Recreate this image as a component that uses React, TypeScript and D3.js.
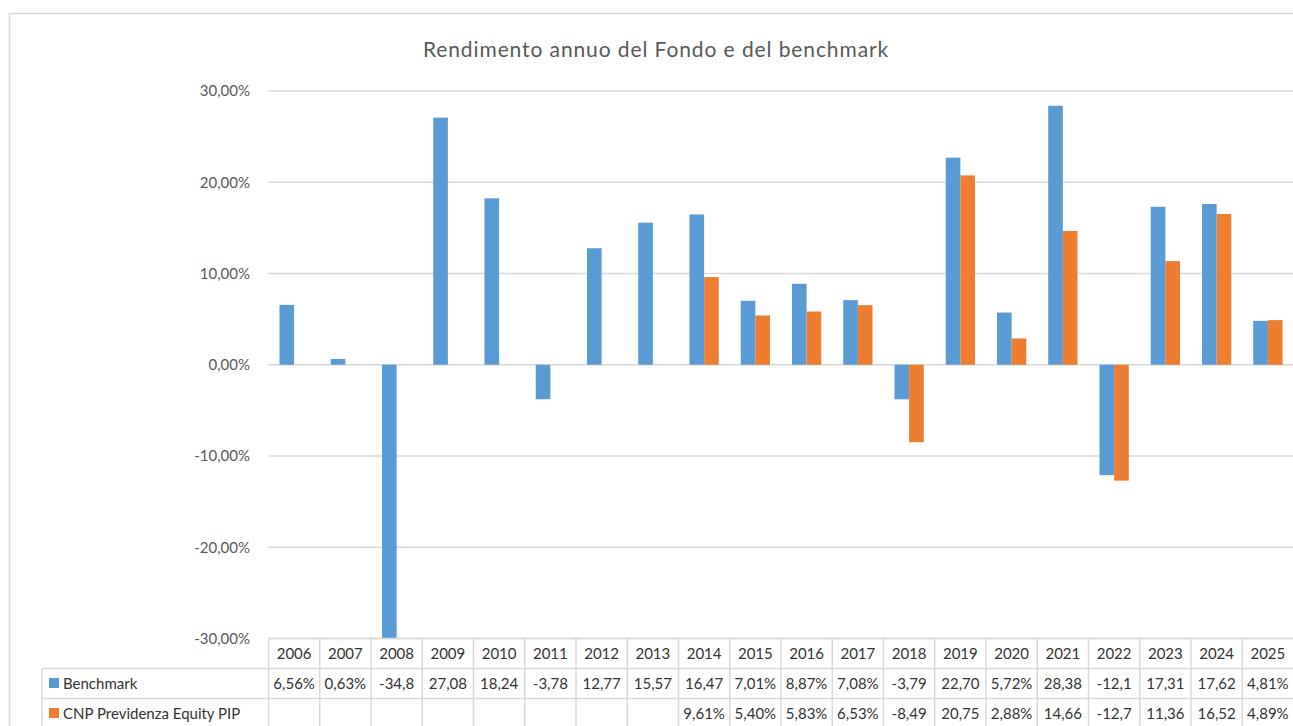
import React, { useRef, useEffect } from 'react';
import * as d3 from 'd3';

const years = ['2006', '2007', '2008', '2009', '2010', '2011', '2012', '2013', '2014', '2015',
  '2016', '2017', '2018', '2019', '2020', '2021', '2022', '2023', '2024', '2025'];

const benchmark = [6.56, 0.63, -34.8, 27.08, 18.24, -3.78, 12.77, 15.57, 16.47, 7.01,
  8.87, 7.08, -3.79, 22.70, 5.72, 28.38, -12.1, 17.31, 17.62, 4.81];

const fund = [null, null, null, null, null, null, null, null, 9.61, 5.40,
  5.83, 6.53, -8.49, 20.75, 2.88, 14.66, -12.7, 11.36, 16.52, 4.89];

const seriesNames = ['Benchmark', 'CNP Previdenza Equity PIP'];
const seriesColors = ['#5B9BD5', '#ED7D31'];
const yTicks = [30, 20, 10, 0, -10, -20, -30];

const title = 'Rendimento annuo del Fondo e del benchmark';

const W = 1293;
const H = 726;
const FONT = 'Lato, "Open Sans", sans-serif';
const GRID = '#d9d9d9';

// italian style percent, plain hyphen for negatives
const pct = (v) => d3.format('.2f')(v).replace('.', ',').replace('−', '-') + '%';
// Excel cuts the value off to the cell width
const cellText = (v) => (v == null ? '' : pct(v).slice(0, 5));

export default function App() {
  const svgRef = useRef(null);

  useEffect(() => {
    const svg = d3.select(svgRef.current);
    svg.selectAll('*').remove();

    const left = 268.5;
    const tableTop = 638.5;
    const rowH = 30;
    const labelLeft = 42;

    const x = d3.scaleBand().domain(years).range([left, W + 0.5]).padding(0);
    const xs = d3.scaleBand().domain(seriesNames).range([0, x.bandwidth()])
      .paddingInner(0).paddingOuter(0.75);
    const y = d3.scaleLinear().domain([-30, 30]).range([tableTop, 91]);

    // chart border
    svg.append('path')
      .attr('d', `M9.5,${H} V13.5 H${W}`)
      .attr('fill', 'none')
      .attr('stroke', GRID)
      .attr('stroke-width', 1.5);

    // title
    svg.append('text')
      .attr('x', 656)
      .attr('y', 57)
      .attr('text-anchor', 'middle')
      .attr('font-family', FONT)
      .attr('font-size', 21)
      .attr('letter-spacing', 0.9)
      .attr('fill', '#595959')
      .text(title);

    // gridlines + y labels
    svg.append('g').selectAll('line')
      .data(yTicks)
      .enter().append('line')
      .attr('x1', left)
      .attr('x2', W)
      .attr('y1', d => y(d))
      .attr('y2', d => y(d))
      .attr('stroke', GRID)
      .attr('stroke-width', 1.5);

    svg.append('g').selectAll('text')
      .data(yTicks)
      .enter().append('text')
      .attr('x', 250)
      .attr('y', d => y(d))
      .attr('dy', '0.35em')
      .attr('text-anchor', 'end')
      .attr('font-family', FONT)
      .attr('font-size', 15)
      .attr('fill', '#595959')
      .text(d => pct(d));

    // bars
    const allSeries = [benchmark, fund];
    allSeries.forEach((vals, si) => {
      svg.append('g').selectAll('rect')
        .data(vals.map((v, i) => ({ v, year: years[i] })).filter(d => d.v != null))
        .enter().append('rect')
        .attr('x', d => x(d.year) + xs(seriesNames[si]))
        .attr('width', xs.bandwidth())
        .attr('y', d => y(Math.min(30, Math.max(0, d.v))))
        .attr('height', d => Math.abs(y(Math.max(-30, Math.min(30, d.v))) - y(0)))
        .attr('fill', seriesColors[si]);
    });

    // data table
    const tbl = svg.append('g')
      .attr('stroke', GRID)
      .attr('stroke-width', 1.5)
      .attr('fill', 'none');

    // horizontal lines
    tbl.append('line').attr('x1', left).attr('x2', W).attr('y1', tableTop).attr('y2', tableTop);
    [1, 2].forEach(r => {
      tbl.append('line')
        .attr('x1', labelLeft)
        .attr('x2', W)
        .attr('y1', tableTop + r * rowH)
        .attr('y2', tableTop + r * rowH);
    });
    // vertical lines
    tbl.append('line').attr('x1', labelLeft).attr('x2', labelLeft)
      .attr('y1', tableTop + rowH).attr('y2', H);
    tbl.selectAll('.col')
      .data(years)
      .enter().append('line')
      .attr('class', 'col')
      .attr('x1', d => x(d))
      .attr('x2', d => x(d))
      .attr('y1', tableTop)
      .attr('y2', H);

    // header years
    svg.append('g').selectAll('text')
      .data(years)
      .enter().append('text')
      .attr('x', d => x(d) + x.bandwidth() / 2)
      .attr('y', tableTop + rowH / 2)
      .attr('dy', '0.35em')
      .attr('text-anchor', 'middle')
      .attr('font-family', FONT)
      .attr('font-size', 15)
      .attr('fill', '#333333')
      .text(d => d);

    allSeries.forEach((vals, si) => {
      const rowY = tableTop + (si + 1) * rowH + rowH / 2;

      svg.append('rect')
        .attr('x', 49)
        .attr('y', rowY - 5.5)
        .attr('width', 10)
        .attr('height', 10)
        .attr('fill', seriesColors[si]);

      svg.append('text')
        .attr('x', 63)
        .attr('y', rowY)
        .attr('dy', '0.35em')
        .attr('font-family', FONT)
        .attr('font-size', 15)
        .attr('fill', '#333333')
        .text(seriesNames[si]);

      svg.append('g').selectAll('text')
        .data(vals.map((v, i) => ({ v, year: years[i] })))
        .enter().append('text')
        .attr('x', d => x(d.year) + x.bandwidth() / 2)
        .attr('y', rowY)
        .attr('dy', '0.35em')
        .attr('text-anchor', 'middle')
        .attr('font-family', FONT)
        .attr('font-size', 15)
        .attr('fill', '#333333')
        .text(d => cellText(d.v));
    });

    return () => {
      d3.select(svgRef.current).selectAll('*').remove();
    };
  }, []);

  return (
    <svg
      ref={svgRef}
      width={W}
      height={H}
      style={{ position: 'absolute', left: 0, top: 0, background: '#fff' }}
    ></svg>
  );
}
